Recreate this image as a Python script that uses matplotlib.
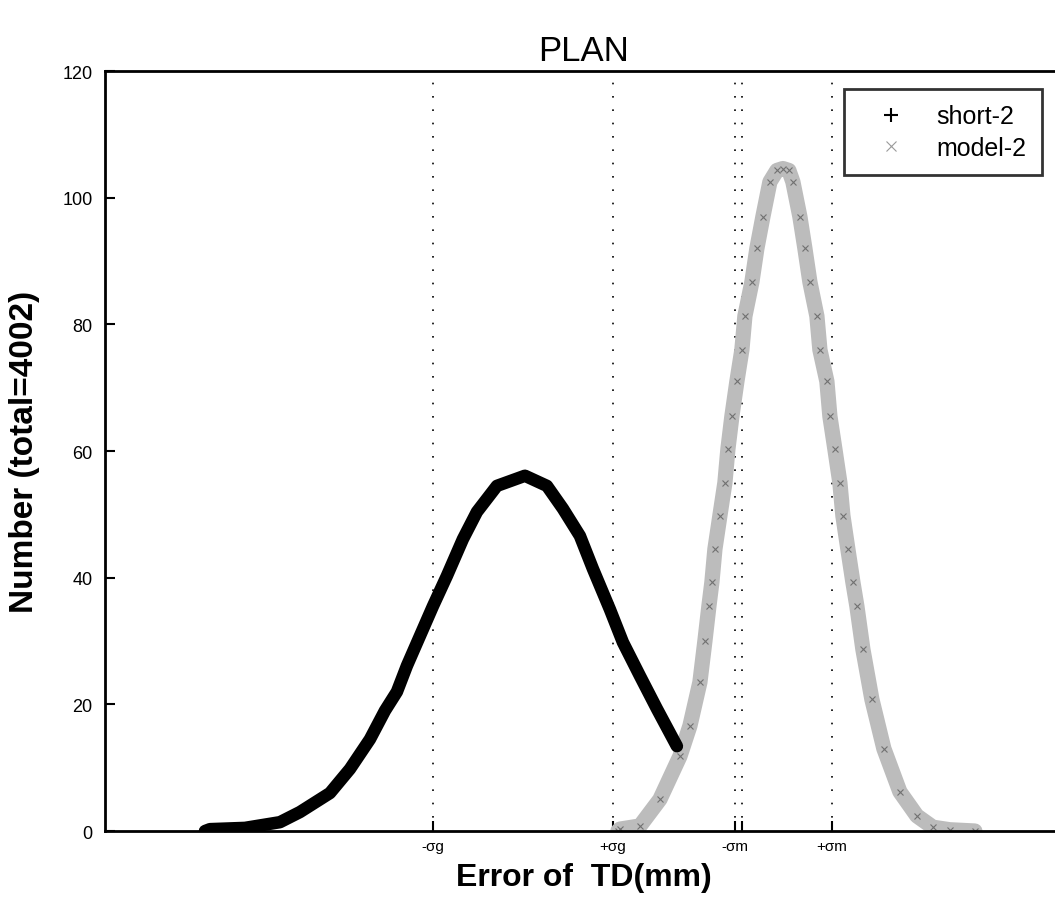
import numpy as np
import matplotlib
matplotlib.use("Agg")
import matplotlib.pyplot as plt

plt.rcParams['font.family'] = ['Liberation Sans', 'DejaVu Sans']

# --- DATA (x in arbitrary units along the error axis) ---
short_x = [1.00, 1.05, 1.40, 1.75, 1.95, 2.25, 2.45, 2.65, 2.80, 2.92,
           3.02, 3.15, 3.28, 3.42, 3.58, 3.72, 3.92, 4.20, 4.42, 4.58,
           4.75, 4.88, 5.05, 5.18, 5.35, 5.52, 5.72]
short_y = [0.0, 0.3, 0.5, 1.4, 3.0, 6.0, 9.8, 14.5, 19.0, 22.0,
           26.1, 30.8, 35.5, 40.3, 46.1, 50.4, 54.5, 56.1, 54.5, 50.9,
           46.6, 41.4, 35.0, 29.8, 24.5, 19.3, 13.4]

model_x = [5.13, 5.15, 5.35, 5.55, 5.75, 5.85, 5.95, 6.00, 6.04, 6.07,
           6.10, 6.15, 6.20, 6.23, 6.27, 6.32, 6.37, 6.40, 6.47, 6.52,
           6.58, 6.65, 6.72, 6.78, 6.84, 6.88, 6.95, 7.00, 7.05, 7.12,
           7.15, 7.22, 7.25, 7.30, 7.35, 7.38, 7.43, 7.48, 7.52, 7.58,
           7.67, 7.79, 7.95, 8.12, 8.28, 8.45, 8.70]
model_y = [0.0, 0.3, 0.8, 5.0, 11.8, 16.6, 23.5, 30.0, 35.5, 39.3,
           44.5, 49.8, 55.0, 60.3, 65.5, 71.0, 76.0, 81.3, 86.7, 92.0,
           97.0, 102.5, 104.3, 104.6, 104.3, 102.5, 97.0, 92.0, 86.7, 81.3,
           76.0, 71.0, 65.5, 60.3, 55.0, 49.8, 44.5, 39.3, 35.5, 28.7,
           20.8, 13.0, 6.2, 2.4, 0.6, 0.2, 0.0]

tick_pos = [3.28, 5.08, 6.30, 6.37, 7.27]
tick_lab = ['-σg', '+σg', '-σm', '', '+σm']

fig = plt.figure(figsize=(10.55, 9.04), dpi=100)
ax = fig.add_axes([0.0995, 0.0796, 0.907, 0.8407])

for x in tick_pos:
    ax.axvline(x, color='black', linestyle=(0, (1, 7)), linewidth=1.2, zorder=1)

# short-2: thick black band of '+' markers
ax.plot(short_x, short_y, color='black', linewidth=9,
        solid_capstyle='round', solid_joinstyle='round', zorder=3)
ax.plot(short_x, short_y, '+', color='black', markersize=8, mew=1.5,
        label='short-2', zorder=3)

# model-2: gray band of 'x' markers
ax.plot(model_x, model_y, color='#bcbcbc', linewidth=11,
        solid_capstyle='round', solid_joinstyle='round', zorder=2)
ax.plot(model_x, model_y, 'x', color='#707070', markersize=5, mew=0.8, zorder=2)
ax.plot([], [], 'x', color='#9a9a9a', markersize=6, mew=0.8, label='model-2')

ax.set_xlim(0, 9.57)
ax.set_ylim(0, 120)
ax.set_yticks(np.arange(0, 121, 20))
ax.set_xticks(tick_pos)
ax.set_xticklabels(tick_lab)
ax.tick_params(direction='in', length=7, width=1.5)
ax.tick_params(axis='y', labelsize=13, pad=9)
ax.tick_params(axis='x', labelsize=11, pad=6)

for s in ax.spines.values():
    s.set_linewidth(2)

ax.set_title('PLAN', fontsize=25, pad=8, x=0.5)
ax.set_xlabel('Error of  TD(mm)', fontsize=23, fontweight='bold', labelpad=6)
ax.set_ylabel('Number (total=4002)', fontsize=24, fontweight='bold', labelpad=16)

leg = ax.legend(loc='upper right', fontsize=18, frameon=True, fancybox=False,
                edgecolor='black', handlelength=2.5, handletextpad=0.6,
                borderpad=0.6, labelspacing=0.3, borderaxespad=0,
                bbox_to_anchor=(0.979, 0.976), markerscale=1.2)
leg.get_frame().set_linewidth(2)

fig.savefig('out.png', dpi=100)
